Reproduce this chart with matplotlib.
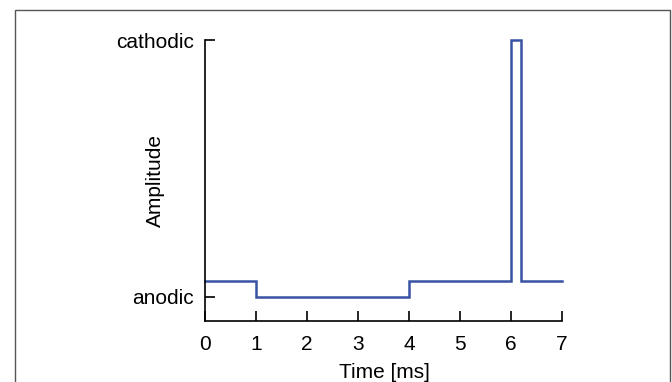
import matplotlib
matplotlib.use("Agg")
import matplotlib.pyplot as plt
from matplotlib.patches import Rectangle

# Data (step waveform)
time_ms = [0, 1, 1, 4, 4, 6, 6, 6.2, 6.2, 7]
amplitude = [0, 0, -1, -1, 0, 0, 15, 15, 0, 0]
x_ticks = [0, 1, 2, 3, 4, 5, 6, 7]
y_ticks = [-1, 15]
y_tick_labels = ["anodic", "cathodic"]

plt.rcParams['font.family'] = ['Liberation Sans', 'DejaVu Sans']

fig = plt.figure(figsize=(6.72, 3.82), dpi=100)
ax = fig.add_axes([205/672, (382-321)/382, (562-205)/672, (321-40)/382])

ax.plot(time_ms, amplitude, color='#3953a4', lw=1.8, clip_on=False,
        solid_joinstyle='miter')
ax.set_xlim(0, 7)
ax.set_ylim(-2.5, 15)
ax.set_xticks(x_ticks)
ax.set_yticks(y_ticks)
ax.set_yticklabels(y_tick_labels)
for s in ['top', 'right']:
    ax.spines[s].set_visible(False)
for s in ['left', 'bottom']:
    ax.spines[s].set_linewidth(1.2)
ax.tick_params(axis='both', direction='in', length=7, width=1.2, labelsize=15)
ax.tick_params(axis='x', pad=10)
ax.tick_params(axis='y', pad=8)
ax.set_xlabel("Time [ms]", fontsize=15)
ax.set_ylabel("Amplitude", fontsize=15)
ax.xaxis.set_label_coords(0.504, (321-373)/281)
ax.xaxis.label.set_va('center')
ax.yaxis.set_label_coords((155-205)/357, 0.5)
ax.yaxis.label.set_va('center')

fig.patches.append(Rectangle((15/672, -0.1), (670-15)/672, (382-10)/382 + 0.1,
                             transform=fig.transFigure, fill=False,
                             edgecolor='#555555', lw=1.0))

fig.savefig("out.png", dpi=100)
